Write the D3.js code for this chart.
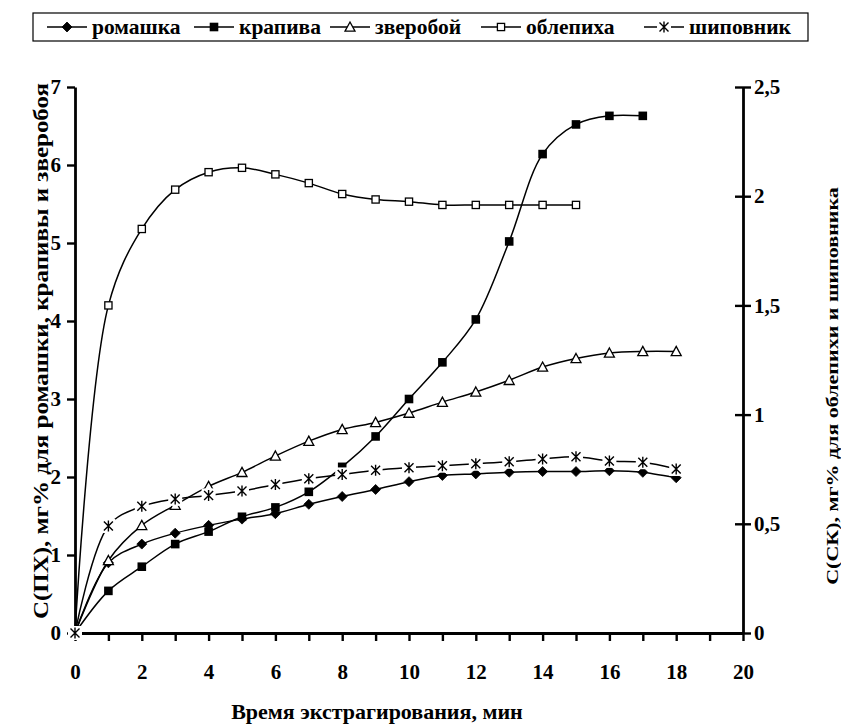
<!DOCTYPE html>
<html><head><meta charset="utf-8">
<script src="https://cdn.jsdelivr.net/npm/d3@7"></script>
<style>
html,body{margin:0;padding:0;background:#fff;}
svg{display:block;font-family:"Liberation Serif","Times New Roman",serif;font-weight:bold;}
</style></head>
<body>
<svg id="chart" width="841" height="727"></svg>
<script>
// ---- data ----
const minutes = [0,1,2,3,4,5,6,7,8,9,10,11,12,13,14,15,16,17,18];
const romashka  = [0,0.90,1.14,1.28,1.38,1.46,1.53,1.65,1.75,1.84,1.94,2.02,2.04,2.06,2.07,2.07,2.08,2.06,1.99];
const krapiva   = [0,0.54,0.85,1.14,1.30,1.49,1.61,1.81,2.13,2.52,3.00,3.47,4.02,5.02,6.14,6.52,6.63,6.63];
const zveroboy  = [0,0.93,1.38,1.64,1.88,2.06,2.27,2.46,2.61,2.70,2.82,2.96,3.09,3.24,3.41,3.52,3.59,3.61,3.61];
const oblepikha = [0,1.50,1.85,2.03,2.11,2.13,2.10,2.06,2.01,1.985,1.975,1.96,1.96,1.96,1.96,1.96];
const shipovnik = [0,0.49,0.58,0.614,0.63,0.65,0.68,0.706,0.726,0.745,0.757,0.766,0.775,0.784,0.797,0.807,0.788,0.782,0.751];

const seriesNames = ["ромашка","крапива","зверобой","облепиха","шиповник"];
const xTicks = [0,1,2,3,4,5,6,7,8,9,10,11,12,13,14,15,16,17,18,19,20];
const xLabels = [0,2,4,6,8,10,12,14,16,18,20];
const yLeftTicks = [0,1,2,3,4,5,6,7];
const yRightTicks = [0,0.5,1,1.5,2,2.5];
const xTitle = "Время экстрагирования, мин";
const yLeftTitle = "С(ПХ), мг% для ромашки, крапивы и зверобоя";
const yRightTitle = "С(СК), мг% для облепихи и шиповника";

// ---- layout ----
const svg = d3.select("#chart");
const x = d3.scaleLinear().domain([0,20]).range([75,743]);
const yL = d3.scaleLinear().domain([0,7]).range([633,87]);
const yR = d3.scaleLinear().domain([0,2.5]).range([633,87]);

const series = [
  {name:seriesNames[0], values:romashka,  axis:yL, marker:"diamond",  firstMarker:false},
  {name:seriesNames[1], values:krapiva,   axis:yL, marker:"fsquare",  firstMarker:false},
  {name:seriesNames[2], values:zveroboy,  axis:yL, marker:"triangle", firstMarker:false},
  {name:seriesNames[3], values:oblepikha, axis:yR, marker:"osquare",  firstMarker:false},
  {name:seriesNames[4], values:shipovnik, axis:yR, marker:"star",     firstMarker:true}
];

function drawMarker(g, type){
  if(type==="diamond"){
    g.append("path").attr("d","M0,-5L5,0L0,5L-5,0Z").attr("fill","#000").attr("stroke","#000").attr("stroke-width",0.8);
  } else if(type==="fsquare"){
    g.append("rect").attr("x",-4.3).attr("y",-4.3).attr("width",8.6).attr("height",8.6).attr("fill","#000");
  } else if(type==="triangle"){
    g.append("path").attr("d","M0,-5L5,4.2L-5,4.2Z").attr("fill","#fff").attr("stroke","#000").attr("stroke-width",1.3);
  } else if(type==="osquare"){
    g.append("rect").attr("x",-3.6).attr("y",-3.6).attr("width",7.2).attr("height",7.2).attr("fill","#fff").attr("stroke","#000").attr("stroke-width",1.3);
  } else if(type==="star"){
    g.append("rect").attr("x",-7).attr("y",-7).attr("width",14).attr("height",14).attr("fill","#fff");
    g.append("path").attr("d","M0,-5.5V5.5M-4.5,-4.5L4.5,4.5M-4.5,4.5L4.5,-4.5").attr("stroke","#000").attr("stroke-width",1.4).attr("fill","none");
  }
}

// ---- axes ----
const fontTick = 21;
const gx = svg.append("g").attr("transform","translate(0,633)")
  .call(d3.axisBottom(x).tickValues(xTicks).tickSize(8).tickSizeOuter(0).tickPadding(23)
    .tickFormat(d => xLabels.includes(d) ? String(d) : ""));
const gl = svg.append("g").attr("transform","translate(75,0)")
  .call(d3.axisLeft(yL).tickValues(yLeftTicks).tickSize(8).tickSizeOuter(0).tickPadding(6)
    .tickFormat(d => String(d)));
const gr = svg.append("g").attr("transform","translate(743,0)")
  .call(d3.axisRight(yR).tickValues(yRightTicks).tickSize(8).tickSizeOuter(0).tickPadding(3)
    .tickFormat(d => String(d).replace(".",",")));
gr.selectAll(".tick line").attr("x1",-8);

[gx,gl,gr].forEach(g=>{
  g.attr("font-family",null).attr("font-size",null);
  g.select(".domain").attr("stroke","#000").attr("stroke-width",2.8);
  g.selectAll(".tick line").attr("stroke","#000").attr("stroke-width",2.4);
  g.selectAll(".tick text").attr("fill","#000").attr("font-size",fontTick)
   .attr("font-family","Liberation Serif, serif").attr("font-weight","bold");
});

// ---- titles ----
svg.append("text").attr("x",377).attr("y",719).attr("text-anchor","middle")
  .attr("font-size",22).text(xTitle);
svg.append("text").attr("transform","translate(48,351) rotate(-90) scale(1,0.8)").attr("text-anchor","middle")
  .attr("font-size",25).text(yLeftTitle);
svg.append("text").attr("transform","translate(838,386) rotate(-90) scale(1,0.8)").attr("text-anchor","middle")
  .attr("font-size",22).text(yRightTitle);

// ---- series ----
const plot = svg.append("g");
series.forEach(s=>{
  const pts = s.values.map((v,i)=>[x(minutes[i]), s.axis(v)]);
  plot.append("path").attr("d", d3.line().curve(d3.curveCatmullRom.alpha(0.5))(pts))
    .attr("fill","none").attr("stroke","#000").attr("stroke-width",1.5);
});
series.forEach(s=>{
  s.values.forEach((v,i)=>{
    if(i===0 && !s.firstMarker) return;
    const g = plot.append("g").attr("transform",`translate(${x(minutes[i])},${s.axis(v)})`);
    drawMarker(g, s.marker);
  });
});

// ---- legend ----
const lg = svg.append("g");
lg.append("rect").attr("x",33).attr("y",13).attr("width",775).attr("height",28)
  .attr("fill","#fff").attr("stroke","#000").attr("stroke-width",1.2);
const legendX = [92,239,375,526,689];
series.forEach((s,i)=>{
  const tx = legendX[i];
  lg.append("line").attr("x1",tx-45).attr("x2",tx-5).attr("y1",27).attr("y2",27)
    .attr("stroke","#000").attr("stroke-width",1.5);
  const g = lg.append("g").attr("transform",`translate(${tx-25},27)`);
  drawMarker(g, s.marker);
  lg.append("text").attr("x",tx).attr("y",34).attr("font-size",21.5).text(s.name);
});
</script>
</body></html>
